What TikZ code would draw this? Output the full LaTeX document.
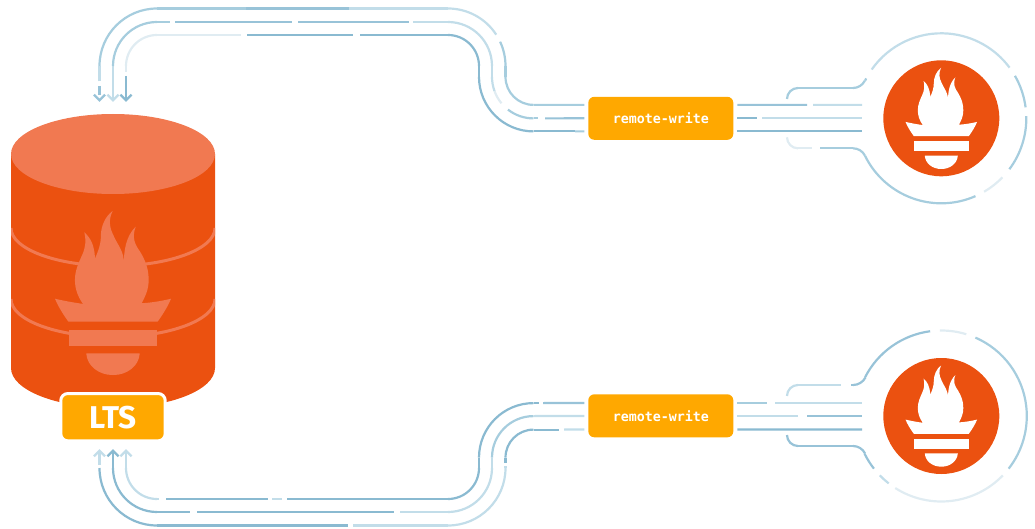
\documentclass[tikz,border=0pt]{standalone}
\usepackage{fontspec}
\setmainfont{Fira Sans}
\newfontfamily\monofam{DejaVu Sans Mono}
\usetikzlibrary{calc}
\definecolor{dk}{HTML}{8ABAD1}
\definecolor{dm}{HTML}{98C3D8}
\definecolor{md}{HTML}{A6CDDE}
\definecolor{lt}{HTML}{C2DDE9}
\definecolor{vl}{HTML}{E0ECF2}
\definecolor{flameorange}{HTML}{EB5110}
\definecolor{flamesoft}{HTML}{F17951}
\definecolor{boxorange}{HTML}{FFA800}
\tikzset{
  wire/.style={line width=2.2pt,draw=#1},
  headtip/.style={line width=2.4pt,draw=#1,miter limit=10},
  rwbox/.style={fill=boxorange,rounded corners=6pt,minimum width=145pt,minimum height=43pt,inner sep=0pt,outer sep=0pt,
     text=white,font=\monofam\bfseries\fontsize{13.3}{15}\selectfont},
  ltsbox/.style={fill=boxorange,draw=white,line width=3pt,rounded corners=7pt,minimum width=104.4pt,minimum height=47.3pt,
     inner sep=0pt,outer sep=0pt,text=white,font=\bfseries\fontsize{31.5}{34}\selectfont},
  disk/.style={circle,fill=flameorange,minimum size=116pt,inner sep=0pt,outer sep=0pt},
}
\newcommand\Arc[6]{\draw[wire=#1] ([shift={(#5:#4)}]#2,#3) arc[start angle=#5,end angle=#6,radius=#4];}
\newcommand\Seg[3]{\draw[wire=#1] #2 -- #3;}
\newcommand\DownHead[3]{\draw[headtip=#1] (#2-5.6,#3-6.3) -- (#2,#3-0.7) -- (#2+5.6,#3-6.3);}
\newcommand\UpHead[3]{\draw[headtip=#1] (#2-5.6,#3+6.3) -- (#2,#3+0.7) -- (#2+5.6,#3+6.3);}
\newcommand\LogoShape[1]{%
  \fill[#1] (-18.5,6.8) .. controls (-22,2) and (-23.5,-3) .. (-23.5,-8)
    .. controls (-23.5,-14) and (-21,-19) .. (-19,-23.5)
    .. controls (-17,-28) and (-16.5,-32) .. (-17.7,-37.4)
    .. controls (-14,-34) and (-11.5,-30) .. (-11.1,-21.3)
    .. controls (-9,-26) and (-7.5,-30) .. (-7.5,-35)
    .. controls (-7.5,-41) and (-5,-47) .. (-0.2,-50.6)
    .. controls (-3,-45) and (-2,-40) .. (0.2,-35.7)
    .. controls (3,-29) and (7,-26) .. (6.8,-17.2)
    .. controls (6.5,-26) and (8,-35) .. (14,-40.9)
    .. controls (11.5,-34) and (13.5,-30) .. (16.7,-25.5)
    .. controls (20,-20) and (22,-15) .. (22,-8)
    .. controls (22,-2) and (20,2) .. (17.7,6.4)
    .. controls (24,6) and (30,5) .. (35.8,3.6)
    .. controls (34,8) and (31,13) .. (27.5,17.8)
    -- (-27.5,17.8)
    .. controls (-31,13) and (-34,8) .. (-35.8,3.6)
    .. controls (-30,5) and (-24,6) .. (-18.5,6.8) -- cycle;
  \fill[#1] (-27.2,22.9) rectangle (27.2,32.8);
  \fill[#1] (-16.5,37.4) -- (16.5,37.4) .. controls (16,45) and (9,50.7) .. (0,50.7)
    .. controls (-9,50.7) and (-16,45) .. (-16.5,37.4) -- cycle;
}
\begin{document}
\begin{tikzpicture}[x=1pt,y=1pt,yscale=-1]
\useasboundingbox (0,0) rectangle (1035,529);

% --- database cylinder
\fill[flameorange] (11,154) -- (11,368) arc[start angle=180,end angle=0,x radius=102,y radius=40] -- (215,154) -- cycle;
\begin{scope}
  \clip (11,154) -- (11,368) arc[start angle=180,end angle=0,x radius=102,y radius=40] -- (215,154) -- cycle;
  \draw[flamesoft,line width=3pt] (11,228) arc[start angle=180,end angle=0,x radius=102,y radius=38];
  \draw[flamesoft,line width=3pt] (11,299) arc[start angle=180,end angle=0,x radius=102,y radius=38];
\end{scope}
\fill[flamesoft] (113,154) ellipse[x radius=102,y radius=40];
\begin{scope}[shift={(113,292.9)},scale=1.62]
  \LogoShape{flamesoft}
\end{scope}

% --- nodes
\node[ltsbox] (lts) at (113,417.2) {LTS};
\node[rwbox] (rwa) at (660.8,118.3) {remote-write};
\node[rwbox] (rwb) at (660.8,415.8) {remote-write};
\node[disk] (proma) at (941.3,118.3) {};
\node[disk] (promb) at (941.3,416) {};
\begin{scope}[shift={(941.3,118.3)}] \LogoShape{white} \end{scope}
\begin{scope}[shift={(941.3,416)}] \LogoShape{white} \end{scope}

% --- named ends of the connectors
\coordinate (inA) at ($(lts.north)+(-13.5,-299)$);
\coordinate (inB) at ($(lts.north)+(0,-299)$);
\coordinate (inC) at ($(lts.north)+(13,-299)$);
\coordinate (outA) at ($(lts.south)+(-13.5,9.2)$);
\coordinate (outB) at ($(lts.south)+(0,9.2)$);
\coordinate (outC) at ($(lts.south)+(13,9.2)$);
\coordinate (aWt) at ($(rwa.west)+(-4,-13.4)$);
\coordinate (aWm) at ($(rwa.west)+(-4,0)$);
\coordinate (aWb) at ($(rwa.west)+(-4,13.1)$);
\coordinate (aEt) at ($(rwa.east)+(4,-13.4)$);
\coordinate (aEm) at ($(rwa.east)+(4,0)$);
\coordinate (aEb) at ($(rwa.east)+(4,13.1)$);
\coordinate (bWt) at ($(rwb.west)+(-4,-12.8)$);
\coordinate (bWm) at ($(rwb.west)+(-4,0.2)$);
\coordinate (bWb) at ($(rwb.west)+(-4,13.6)$);
\coordinate (bEt) at ($(rwb.east)+(4,-12.8)$);
\coordinate (bEm) at ($(rwb.east)+(4,0.2)$);
\coordinate (bEb) at ($(rwb.east)+(4,13.6)$);
\coordinate (paT) at ($(proma.west)+(-21.3,-13.4)$);
\coordinate (paM) at ($(proma.west)+(-21.3,0)$);
\coordinate (paB) at ($(proma.west)+(-21.3,13.1)$);
\coordinate (pbT) at ($(promb.west)+(-21.3,-13)$);
\coordinate (pbM) at ($(promb.west)+(-21.3,0)$);
\coordinate (pbB) at ($(promb.west)+(-21.3,13.4)$);

% --- upper route, outer line
\DownHead{dm}{99.5}{101}
\Seg{dm}{(99.5,86)}{(inA)}
\Seg{lt}{(99.5,81.5)}{(99.5,66)}
\Arc{md}{157}{66}{57.5}{180}{270}
\Seg{md}{(157,8.5)}{(246,8.5)}
\Seg{dm}{(246,8.5)}{(349,8.5)}
\Seg{lt}{(349,8.5)}{(448,8.5)}
\Arc{lt}{448}{66}{57.5}{270}{327}
\Arc{md}{448}{66}{57.5}{335}{360}
\Seg{md}{(505.5,66)}{(505.5,76.9)}
\Arc{md}{533.5}{76.9}{28}{180}{90}
\Seg{md}{(533.5,104.9)}{(aWt)}
% upper route, middle line
\DownHead{lt}{113}{101}
\Seg{lt}{(113,100)}{(113,66)}
\Arc{md}{157}{66}{44}{180}{270}
\Seg{md}{(157,22)}{(170,22)}
\Seg{dm}{(175,22)}{(292,22)}
\Seg{dm}{(298,22)}{(409,22)}
\Seg{lt}{(413,22)}{(448,22)}
\Arc{lt}{448}{66}{44}{270}{360}
\Seg{lt}{(492,66)}{(492,76.9)}
\Arc{lt}{533.5}{76.9}{41.5}{180}{160}
\Arc{vl}{533.5}{76.9}{41.5}{160}{140.5}
\Arc{md}{533.5}{76.9}{41.5}{128}{90}
\Seg{md}{(533.5,118.4)}{(538,118.4)}
\Seg{dm}{(545,118.4)}{(aWm)}
% upper route, inner line
\DownHead{dk}{126}{101}
\Seg{dk}{(126,76)}{(126,100)}
\Seg{vl}{(126,72)}{(126,66)}
\Arc{vl}{157}{66}{31}{180}{270}
\Seg{vl}{(157,35)}{(241,35)}
\Seg{dk}{(247,35)}{(353,35)}
\Seg{dk}{(360,35)}{(448,35)}
\Arc{dk}{448}{66}{31}{270}{360}
\Seg{dk}{(479,66)}{(479,76.9)}
\Arc{dk}{533.5}{76.9}{54.5}{180}{90}
\Seg{dk}{(533.5,131.4)}{(575,131.4)}
\Seg{md}{(575,131.4)}{(aWb)}

% --- upper remote-write to upper server
\Seg{dm}{(aEt)}{(807,104.9)}
\Seg{lt}{(813,104.9)}{(paT)}
\Seg{dk}{(aEm)}{(757,118.3)}
\Seg{lt}{(762,118.3)}{(paM)}
\Seg{dk}{(aEb)}{(paB)}
% upper server, top branch and ring
\Arc{md}{798}{99}{11}{180}{270}
\Seg{md}{(798,88)}{(853,88)}
\Arc{md}{853}{74.8}{13.2}{90}{26.3}
\Arc{md}{941.3}{118.3}{85}{206.3}{208}
\Arc{lt}{941.3}{118.3}{85}{215}{323.4}
\Arc{md}{941.3}{118.3}{85}{330}{352.6}
\Arc{md}{941.3}{118.3}{85}{358.5}{396.8}
\Arc{vl}{941.3}{118.3}{85}{44}{59.8}
\Arc{md}{941.3}{118.3}{85}{66.3}{153.8}
\Arc{md}{853}{161.7}{13.4}{333.8}{270}
\Seg{md}{(853,148.3)}{(820,148.3)}
\Seg{vl}{(812,148.3)}{(798,148.3)}
\Arc{vl}{798}{137.3}{11}{90}{180}

% --- lower route, outer line
\UpHead{lt}{99.5}{450}
\Seg{lt}{(99.5,451)}{(99.5,465)}
\Arc{dk}{157}{468}{57.5}{180}{90}
\Seg{dk}{(157,525.5)}{(348,525.5)}
\Seg{lt}{(353,525.5)}{(448,525.5)}
\Arc{lt}{448}{468}{57.5}{90}{0}
\Seg{lt}{(505.5,468)}{(505.5,466)}
\Seg{dk}{(505.5,463)}{(505.5,457.6)}
\Arc{dk}{533.5}{457.6}{28}{180}{270}
\Seg{dk}{(533.5,429.6)}{(559,429.6)}
\Seg{lt}{(564,429.6)}{(bWb)}
% lower route, middle line
\UpHead{dk}{113}{450}
\Seg{dk}{(113,451)}{(113,468)}
\Arc{dk}{157}{468}{44}{180}{90}
\Seg{dk}{(157,512)}{(190,512)}
\Seg{dk}{(197,512)}{(394,512)}
\Seg{lt}{(400,512)}{(448,512)}
\Arc{lt}{448}{468}{44}{90}{0}
\Seg{lt}{(492,468)}{(492,457.6)}
\Arc{md}{533.5}{457.6}{41.5}{180}{270}
\Seg{lt}{(533.5,416.1)}{(bWm)}
% lower route, inner line
\UpHead{lt}{126}{450}
\Seg{lt}{(126,451)}{(126,468)}
\Arc{lt}{157}{468}{31}{180}{90}
\Seg{lt}{(157,499)}{(159,499)}
\Seg{dk}{(166,499)}{(268,499)}
\Seg{lt}{(272,499)}{(282,499)}
\Seg{dk}{(287,499)}{(448,499)}
\Arc{dk}{448}{468}{31}{90}{0}
\Seg{dk}{(479,468)}{(479,457.6)}
\Arc{dk}{533.5}{457.6}{54.5}{180}{270}
\Seg{dk}{(533.5,403.1)}{(539,403.1)}
\Seg{dm}{(543,403.1)}{(bWt)}

% --- lower remote-write to lower server
\Seg{md}{(bEt)}{(767,403)}
\Seg{lt}{(775,403)}{(pbT)}
\Seg{lt}{(bEm)}{(798,416)}
\Seg{dm}{(807,416)}{(pbM)}
\Seg{dk}{(bEb)}{(pbB)}
% lower server, top branch and ring
\Arc{lt}{798}{396}{11}{180}{270}
\Seg{lt}{(798,385)}{(841,385)}
\Seg{dm}{(851,385)}{(853,385)}
\Arc{dm}{853}{370.9}{14.1}{90}{27}
\Arc{dm}{941.3}{416}{85.5}{207}{262.5}
\Arc{vl}{941.3}{416}{85.5}{269}{287}
\Arc{md}{941.3}{416}{85.5}{293.5}{398}
\Arc{vl}{941.3}{416}{85.5}{44}{122.6}
\Arc{lt}{941.3}{416}{85.5}{128}{136}
\Arc{dm}{941.3}{416}{85.5}{153.8}{142}
\Arc{dm}{853}{459.4}{13.4}{333.8}{270}
\Seg{dm}{(853,446)}{(798,446)}
\Arc{dm}{798}{435}{11}{90}{180}
\end{tikzpicture}
\end{document}
